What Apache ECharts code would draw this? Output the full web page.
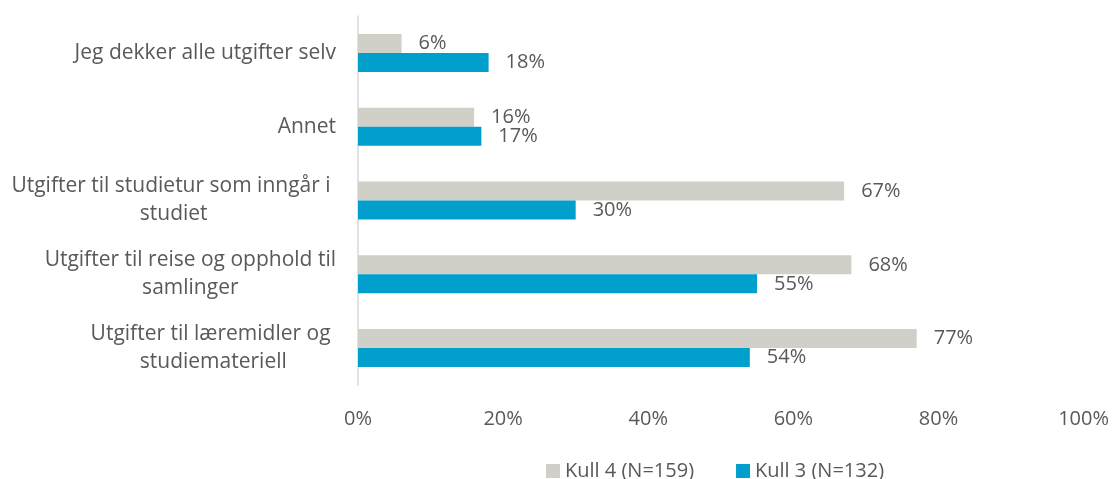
<!DOCTYPE html>
<html>
<head>
<meta charset="utf-8">
<script src="https://cdn.jsdelivr.net/npm/echarts@6/dist/echarts.min.js"></script>
<style>html,body{margin:0;padding:0;background:#fff}#c{width:1112px;height:479px}</style>
</head>
<body>
<div id="c"></div>
<script>
const categories = [
  "Jeg dekker alle utgifter selv",
  "Annet",
  "Utgifter til studietur som inngår i \nstudiet",
  "Utgifter til reise og opphold til\nsamlinger",
  "Utgifter til læremidler og \nstudiemateriell"
];
const seriesNames = ["Kull 4 (N=159)", "Kull 3 (N=132)"];
const kull4 = [6, 16, 67, 68, 77];
const kull3 = [18, 17, 30, 55, 54];
const xTicks = [0, 20, 40, 60, 80, 100];

const FONT = "Open Sans";
const FS = 20;
const CFS = 21;
const TXT = "#595959";
const chart = echarts.init(document.getElementById('c'), null, {renderer: 'canvas'});
chart.setOption({
  animation: false,
  textStyle: {fontFamily: FONT},
  grid: {left: 358, right: 28, top: 16, bottom: 94, containLabel: false},
  legend: {
    data: seriesNames,
    top: 456,
    left: 541,
    icon: 'rect',
    itemWidth: 14, itemHeight: 14,
    itemGap: 42,
    textStyle: {color: TXT, fontSize: FS, fontFamily: FONT}
  },
  xAxis: {
    type: 'value', min: xTicks[0], max: xTicks[xTicks.length - 1], interval: 20,
    splitLine: {show: false}, axisLine: {show: false}, axisTick: {show: false},
    axisLabel: {formatter: '{value}%', color: TXT, fontSize: FS, fontFamily: FONT, margin: 24}
  },
  yAxis: {
    type: 'category', data: categories, inverse: true,
    axisLine: {show: true, lineStyle: {color: '#D9D9D9', width: 1.5}},
    axisTick: {show: false},
    axisLabel: {
      color: TXT, fontSize: CFS, fontFamily: FONT, margin: 22, lineHeight: 28,
      formatter: v => v.split('\n').map(l => '{c|' + l + '}').join('\n'),
      rich: {c: {align: 'center', color: TXT, fontSize: CFS, fontFamily: FONT, lineHeight: 28}}
    }
  },
  series: [
    {
      name: seriesNames[0], type: 'bar', data: kull4, barWidth: 19, barGap: '0%',
      itemStyle: {color: '#D0CFC8'},
      label: {show: true, position: 'right', distance: 17, formatter: '{c}%', color: TXT, fontSize: FS, fontFamily: FONT}
    },
    {
      name: seriesNames[1], type: 'bar', data: kull3, barWidth: 19, barGap: '0%',
      itemStyle: {color: '#009FCC'},
      label: {show: true, position: 'right', distance: 17, formatter: '{c}%', color: TXT, fontSize: FS, fontFamily: FONT}
    }
  ]
});
</script>
</body>
</html>
